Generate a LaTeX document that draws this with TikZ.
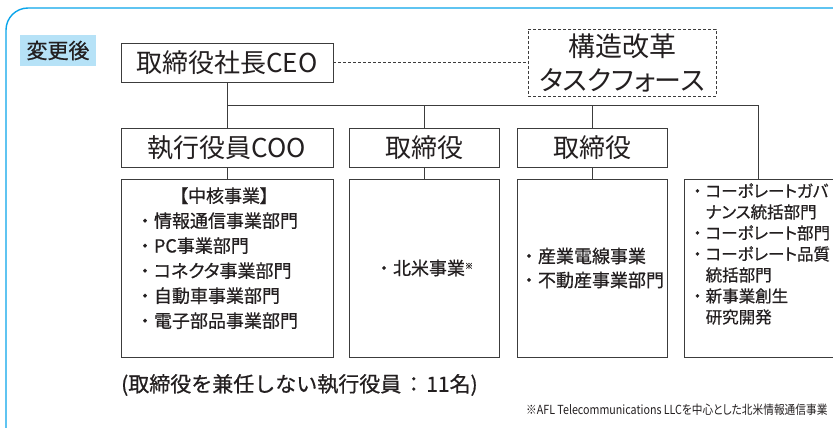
\documentclass[tikz,border=0pt]{standalone}
\usepackage{fontspec}
\setmainfont[RawFeature=+palt]{Noto Sans CJK JP}
\newfontfamily\jpfull{Noto Sans CJK JP}
\newfontfamily\jpbold[RawFeature=+palt, FakeBold=0.6]{Noto Sans CJK JP}
\newfontfamily\jpboldfull[FakeBold=0.6]{Noto Sans CJK JP}
\newcommand{\bul}{{\jpboldfull ・}}
\definecolor{linec}{RGB}{60,60,60}
\definecolor{txt}{RGB}{35,31,32}
\definecolor{framec}{RGB}{10,165,235}
\definecolor{lblue}{RGB}{182,226,247}
\begin{document}
\begin{tikzpicture}[x=1pt,y=-1pt]
\tikzset{
  orgbox/.style={draw=linec, line width=0.9pt, fill=white, inner sep=0pt, text=txt,
    font=\fontsize{26}{34}\selectfont, align=center},
  conn/.style={draw=linec, line width=0.9pt},
  txtnode/.style={inner sep=0pt, text=txt},
  dashlink/.style={draw=linec, line width=0.8pt, dash pattern=on 3pt off 2pt}
}
\useasboundingbox (0,0) rectangle (833,428);
\clip (0,0) rectangle (833,428);
\fill[white] (0,0) rectangle (833,428);
% outer frame
\draw[framec, line width=1.4pt, rounded corners=22pt] (6,8) rectangle (880,450);
% label
\node[fill=lblue, minimum width=76pt, minimum height=31pt, inner sep=0pt,
  font=\jpbold\fontsize{21}{21}\selectfont, text=txt] (lbl) at (58,50.5) {変更後};
% top row
\node[orgbox, minimum width=212pt, minimum height=39pt] (ceo) at (227,62.5) {取締役社長CEO};
\node[orgbox, dashlink, text=txt, minimum width=188pt, minimum height=67pt,
  font=\fontsize{27}{34}\selectfont] (task) at (622,62.5) {構造改革\\タスクフォース};
% second row
\node[orgbox, minimum width=212pt, minimum height=39pt] (coo) at (227,147.5) {執行役員COO};
\node[orgbox, minimum width=150pt, minimum height=39pt] (dir1) at (424,147.5) {取締役};
\node[orgbox, minimum width=150pt, minimum height=39pt] (dir2) at (592,147.5) {取締役};
% third row
\node[orgbox, minimum width=212pt, minimum height=178pt] (b1) at (227,268) {};
\node[orgbox, minimum width=150pt, minimum height=178pt, font=\jpbold\fontsize{18}{25}\selectfont] (b2) at (424,268)
  {\bul 北米事業\raisebox{6pt}{\fontsize{8}{8}\selectfont ※}};
\node[orgbox, minimum width=150pt, minimum height=178pt, font=\jpbold\fontsize{18}{24}\selectfont, align=left] (b3) at (592,268)
  {\bul 産業電線事業\\\bul 不動産事業部門};
\node[orgbox, minimum width=180pt, minimum height=178pt, anchor=west] (b4) at (684,268) {};
% texts in boxes
\node[txtnode, font=\jpbold\fontsize{18}{25}\selectfont] (t1) at (217,260)
  {\begin{tabular}{@{}l@{}}
   \multicolumn{1}{@{}c@{}}{\hspace{14pt}【中核事業】}\\
   \bul 情報通信事業部門\\
   \bul PC事業部門\\
   \bul コネクタ事業部門\\
   \bul 自動車事業部門\\
   \bul 電子部品事業部門
   \end{tabular}};
\node[txtnode, anchor=west, font=\jpbold\fontsize{16.5}{21}\selectfont] (t4) at (689,256)
  {\begin{tabular}{@{}l@{}}
   \bul コーポレートガバ\\
   \hspace{1em}ナンス統括部門\\
   \bul コーポレート部門\\
   \bul コーポレート品質\\
   \hspace{1em}統括部門\\
   \bul 新事業創生\\
   \hspace{1em}研究開発
   \end{tabular}};
% connectors
\coordinate (busL) at (227,105);
\coordinate (busR) at (758,105);
\draw[dashlink] (ceo.east) -- (task.west);
\draw[conn] (ceo.south) -- (coo.north);
\draw[conn] (busL) -- (busR) -- (busR |- b4.north);
\draw[conn] (dir1.north |- busR) -- (dir1.north);
\draw[conn] (dir2.north |- busR) -- (dir2.north);
\draw[conn] (coo.south) -- (b1.north);
\draw[conn] (dir1.south) -- (b2.north);
\draw[conn] (dir2.south) -- (b3.north);
% notes
\node[txtnode, anchor=west, font=\jpboldfull\fontsize{21}{21}\selectfont] (note) at (121,385)
  {(取締役を兼任しない執行役員\hspace{2pt}：\hspace{2pt}11名)};
\node[txtnode, anchor=west, font=\fontsize{12.5}{12.5}\selectfont] (fn) at (526,410)
  {\scalebox{0.855}[1]{※AFL Telecommunications LLCを中心とした北米情報通信事業}};
\end{tikzpicture}
\end{document}
